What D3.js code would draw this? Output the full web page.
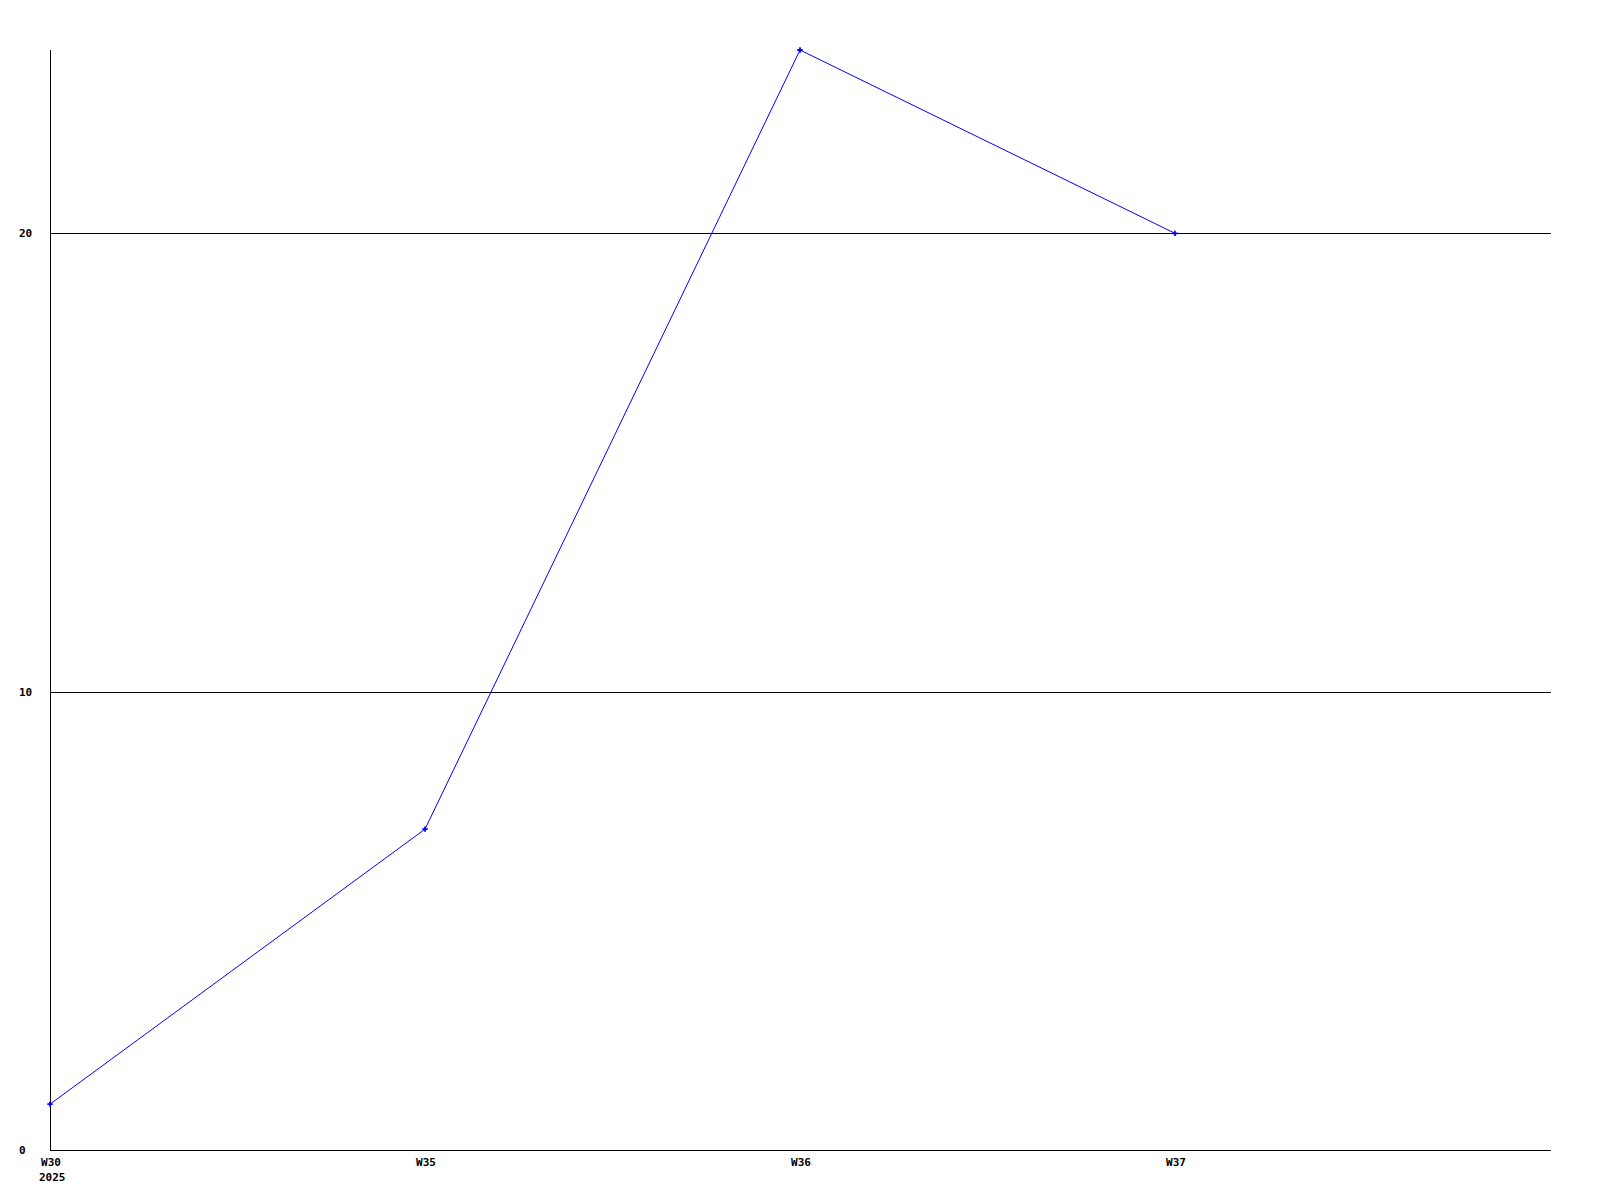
<!doctype html>
<html lang="en">
<head>
  <meta charset="utf-8">
  <style>
    body {
      margin: 0;
      background-color: white;
    }
    svg {
      display: block;
      background-color: white;
    }
    .lbl {
      font-family: "DejaVu Sans Mono", monospace;
      font-weight: bold;
      font-size: 11px;
      fill: black;
    }
    .grid, .axis {
      stroke: black;
      stroke-width: 1px;
      shape-rendering: crispEdges;
    }
    .series {
      fill: none;
      stroke: #0000ff;
      stroke-width: 1px;
    }
  </style>
</head>
<body>
<script src="https://d3js.org/d3.v7.min.js"></script>
<script>
var width = 1600,
height = 1200;

// data
var weeks = ["W30", "W35", "W36", "W37"];
var values = [1, 7, 24, 20];
var yTicks = [0, 10, 20];
var yearLabel = "2025";

// plot box (note: "top" is taken by window.top)
var plotLeft = 50, plotRight = 1551, plotTop = 50, plotBottom = 1150;

var x = d3.scaleLinear()
.domain([0, 4])
.range([plotLeft, plotRight - 1]);

var y = d3.scaleLinear()
.domain([0, 24])
.range([plotBottom, plotTop]);

var svg = d3.select("body").append("svg")
.attr("width", width)
.attr("height", height);

// gridlines (skip 0, that is the axis)
svg.append("g")
  .selectAll("line")
  .data(yTicks.filter(function(d) { return d !== 0; }))
  .enter().append("line")
  .attr("class", "grid")
  .attr("x1", plotLeft)
  .attr("x2", plotRight)
  .attr("y1", function(d) { return Math.round(y(d)) + 0.5; })
  .attr("y2", function(d) { return Math.round(y(d)) + 0.5; });

// axes
svg.append("line").attr("class", "axis")
  .attr("x1", plotLeft + 0.5).attr("x2", plotLeft + 0.5)
  .attr("y1", plotTop).attr("y2", plotBottom);
svg.append("line").attr("class", "axis")
  .attr("x1", plotLeft).attr("x2", plotRight)
  .attr("y1", plotBottom + 0.5).attr("y2", plotBottom + 0.5);

// y labels
svg.append("g")
  .selectAll("text")
  .data(yTicks)
  .enter().append("text")
  .attr("class", "lbl")
  .attr("x", 19)
  .attr("y", function(d) { return y(d) + 4; })
  .text(function(d) { return d; });

// x labels
svg.append("g")
  .selectAll("text")
  .data(weeks)
  .enter().append("text")
  .attr("class", "lbl")
  .attr("text-anchor", "middle")
  .attr("x", function(d, i) { return x(i) + 1; })
  .attr("y", 1166)
  .text(function(d) { return d; });

svg.append("text")
  .attr("class", "lbl")
  .attr("x", 39)
  .attr("y", 1181)
  .text(yearLabel);

// the series
var line = d3.line()
.x(function(d, i) { return x(i); })
.y(function(d) { return y(d); });

svg.append("path")
  .datum(values)
  .attr("class", "series")
  .attr("d", line);

svg.append("g")
  .selectAll("path")
  .data(values)
  .enter().append("path")
  .attr("fill", "#0000ff")
  .attr("transform", function(d, i) { return "translate(" + x(i) + "," + y(d) + ")"; })
  .attr("d", d3.symbol().type(d3.symbolCross).size(16));
</script>
</body>
</html>
